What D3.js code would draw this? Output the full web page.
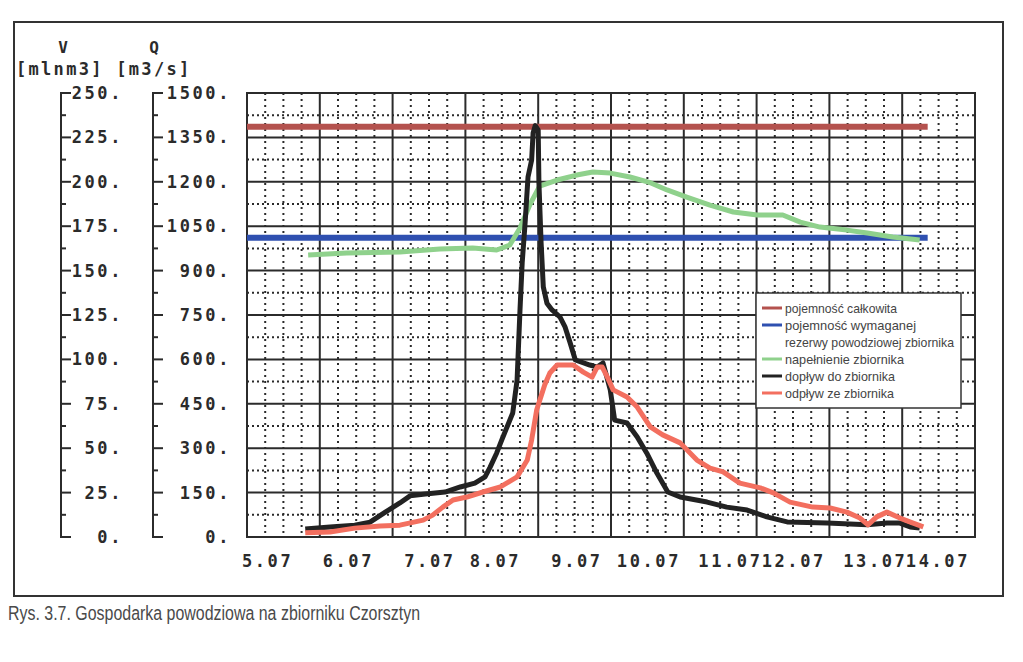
<!DOCTYPE html>
<html><head><meta charset="utf-8">
<script src="https://cdn.jsdelivr.net/npm/d3@7"></script>
<style>body{margin:0;background:#fff;} svg{display:block}</style>
</head><body>
<svg id="c" width="1023" height="662"></svg>
<script>
// ---------- data ----------
const xTickLabels = ["5.07","6.07","7.07","8.07","9.07","10.07","11.07","12.07","13.07","14.07"];
const xTickPos    = [4.93, 6.04, 7.16, 8.06, 9.18, 10.08, 11.20, 12.07, 13.19, 14.05];
const vTicks = [0,25,50,75,100,125,150,175,200,225,250];
const qTicks = [0,150,300,450,600,750,900,1050,1200,1350,1500];

const totalCapacityV   = 231;    // pojemność całkowita [mln m3]
const reserveCapacityV = 168.5;  // pojemność wymaganej rezerwy
const capStartDay = 5.0, capEndDay = 14.35;

const inflowDay = [5.80,6.14,6.48,6.69,6.90,7.10,7.24,7.45,7.72,7.93,8.13,8.27,8.34,8.43,8.50,8.65,8.71,8.75,8.78,8.82,8.86,8.91,8.93,8.96,9.00,9.01,9.04,9.07,9.12,9.19,9.30,9.37,9.44,9.51,9.71,9.81,9.89,9.99,10.05,10.22,10.36,10.49,10.63,10.78,10.95,11.32,11.59,11.87,12.14,12.42,12.97,13.52,13.79,13.97,14.11,14.24];
const inflowQ   = [27,34,40,50,84,115,139,145,152,169,182,203,236,284,328,419,530,767,926,1061,1216,1274,1365,1390,1375,1196,993,845,790,767,743,709,655,598,581,574,588,497,395,385,338,284,216,152,135,118,101,91,68,51,47,41,47,47,34,30];

const outflowDay = [5.80,6.14,6.48,6.83,7.10,7.42,7.55,7.69,7.83,8.02,8.24,8.48,8.71,8.85,8.91,8.98,9.09,9.16,9.26,9.48,9.62,9.74,9.81,9.88,9.95,10.03,10.22,10.36,10.54,10.71,10.95,11.18,11.36,11.54,11.77,12.05,12.23,12.46,12.77,13.01,13.24,13.42,13.53,13.65,13.79,13.97,14.15,14.29];
const outflowQ   = [14,17,30,37,40,57,74,101,125,135,152,169,203,260,328,430,514,554,581,581,557,540,574,574,540,497,473,439,372,345,318,260,233,220,182,166,149,118,101,98,84,64,41,68,84,64,47,34];

const storageDay = [5.84,6.37,7.10,7.65,8.10,8.43,8.61,8.75,8.89,9.02,9.26,9.53,9.75,9.99,10.26,10.54,10.77,11.04,11.36,11.68,12.01,12.36,12.60,12.87,13.24,13.52,13.87,14.24];
const storageV   = [158.8,159.9,160.5,162.1,162.7,161.6,164.4,174.0,187.5,197.6,201.0,203.8,205.5,204.9,202.7,199.5,195.4,191.4,186.9,183.0,181.3,181.3,177.3,174.5,172.8,171.2,168.9,167.2];

const legendLabels = ["pojemność całkowita","pojemność wymaganej","rezerwy powodziowej zbiornika","napełnienie zbiornika","dopływ do zbiornika","odpływ ze zbiornika"];
const legendColors = ["#b4524e","#2f50b0",null,"#8fd18c","#222222","#f36f5f"];
const legendWidths = [112,131,169,119,110,109];
const caption = "Rys. 3.7. Gospodarka powodziowa na zbiorniku Czorsztyn";

// ---------- layout ----------
const svg = d3.select("#c");
const L=247, R=975, T=93, B=537;
const x  = d3.scaleLinear().domain([5,15]).range([L,R]);
const yV = d3.scaleLinear().domain([0,250]).range([B,T]);
const yQ = d3.scaleLinear().domain([0,1500]).range([B,T]);
const ink = "#2b2b2b";
const monoFont = "'DejaVu Sans Mono', monospace";

// outer frame
svg.append("rect").attr("x",14).attr("y",22).attr("width",989).attr("height",574)
  .attr("fill","none").attr("stroke","#333").attr("stroke-width",2);

// grid
const g = svg.append("g");
for (let i=0;i<=40;i++){
  const d = 5 + i/4;
  const major = i%4===0;
  g.append("line").attr("x1",x(d)).attr("x2",x(d)).attr("y1",T).attr("y2",B)
   .attr("stroke",ink).attr("stroke-width",2)
   .attr("stroke-dasharray",major?null:"2,4");
}
for (let i=0;i<=20;i++){
  const v = i*12.5;
  const major = i%2===0;
  g.append("line").attr("x1",L).attr("x2",R).attr("y1",yV(v)).attr("y2",yV(v))
   .attr("stroke",ink).attr("stroke-width",2)
   .attr("stroke-dasharray",major?null:"2,3");
}
g.append("rect").attr("x",L).attr("y",T).attr("width",R-L).attr("height",B-T)
  .attr("fill","none").attr("stroke",ink).attr("stroke-width",2);

// y axes
function drawAxis(scale, ticks, axX, labelRight){
  const a = svg.append("g");
  a.append("line").attr("x1",axX).attr("x2",axX).attr("y1",scale(ticks[0])).attr("y2",scale(ticks[ticks.length-1]))
   .attr("stroke",ink).attr("stroke-width",2);
  ticks.forEach((t,i)=>{
    a.append("line").attr("x1",axX-1).attr("x2",axX+10).attr("y1",scale(t)).attr("y2",scale(t))
     .attr("stroke",ink).attr("stroke-width",2);
    a.append("text").attr("x",labelRight).attr("y",scale(t)).attr("text-anchor","end")
     .attr("dominant-baseline","central").attr("font-family",monoFont).attr("font-weight","bold")
     .attr("font-size",17).attr("letter-spacing",2.6).attr("fill",ink).text(t+".");
    if (i<ticks.length-1){
      const m=(t+ticks[i+1])/2;
      a.append("line").attr("x1",axX).attr("x2",axX+5).attr("y1",scale(m)).attr("y2",scale(m))
       .attr("stroke",ink).attr("stroke-width",2);
    }
  });
}
drawAxis(yV, vTicks, 61, 123);
drawAxis(yQ, qTicks, 153, 231);

// axis titles
svg.append("text").attr("x",63).attr("y",53).attr("text-anchor","middle").attr("font-family",monoFont)
  .attr("font-weight","bold").attr("font-size",16).attr("fill",ink).text("V");
svg.append("text").attr("x",154).attr("y",53).attr("text-anchor","middle").attr("font-family",monoFont)
  .attr("font-weight","bold").attr("font-size",16).attr("fill",ink).text("Q");
svg.append("text").attr("x",16).attr("y",75).attr("font-family",monoFont).attr("font-weight","bold")
  .attr("font-size",17).attr("letter-spacing",2.3).attr("fill",ink).text("[mlnm3] [m3/s]");

// x labels
svg.append("g").selectAll("text").data(xTickLabels).join("text")
  .attr("x",(d,i)=>x(xTickPos[i])).attr("y",561).attr("dominant-baseline","central")
  .attr("font-family",monoFont).attr("font-weight","bold").attr("font-size",17)
  .attr("letter-spacing",2.6).attr("fill",ink).text(d=>d);

// series
const zip = (a,b)=>a.map((d,i)=>[d,b[i]]);
const lineV = d3.line().x(d=>x(d[0])).y(d=>yV(d[1]));
const lineQ = d3.line().x(d=>x(d[0])).y(d=>yQ(d[1]));
const S = svg.append("g").attr("fill","none").attr("stroke-linejoin","round");
S.append("path").attr("d",lineV([[capStartDay,totalCapacityV],[capEndDay,totalCapacityV]]))
  .attr("stroke",legendColors[0]).attr("stroke-width",6);
S.append("path").attr("d",lineV([[capStartDay,reserveCapacityV],[capEndDay,reserveCapacityV]]))
  .attr("stroke",legendColors[1]).attr("stroke-width",6);
S.append("path").attr("d",lineV(zip(storageDay,storageV)))
  .attr("stroke",legendColors[3]).attr("stroke-width",5);
S.append("path").attr("d",lineQ(zip(inflowDay,inflowQ)))
  .attr("stroke",legendColors[4]).attr("stroke-width",5);
S.append("path").attr("d",lineQ(zip(outflowDay,outflowQ)))
  .attr("stroke",legendColors[5]).attr("stroke-width",5);

// legend
const lg = svg.append("g");
lg.append("rect").attr("x",756).attr("y",293).attr("width",205).attr("height",115)
  .attr("fill","#fff").attr("stroke","#333").attr("stroke-width",1.5);
legendLabels.forEach((t,i)=>{
  const cy = 308 + i*17;
  if (legendColors[i]) lg.append("line").attr("x1",762).attr("x2",782).attr("y1",cy).attr("y2",cy)
     .attr("stroke",legendColors[i]).attr("stroke-width",3);
  lg.append("text").attr("x",785).attr("y",cy+4.5).attr("font-family","'Liberation Sans Narrow','Liberation Sans',sans-serif")
    .attr("font-size",13).attr("fill","#444").attr("textLength",legendWidths[i]).attr("lengthAdjust","spacingAndGlyphs").text(t);
});

// caption
svg.append("text").attr("x",8).attr("y",620).attr("font-family","'Liberation Sans Narrow','Liberation Sans',sans-serif")
  .attr("font-size",20).attr("fill","#4a4a4a").attr("textLength",412).attr("lengthAdjust","spacingAndGlyphs").text(caption);
</script>
</body></html>
